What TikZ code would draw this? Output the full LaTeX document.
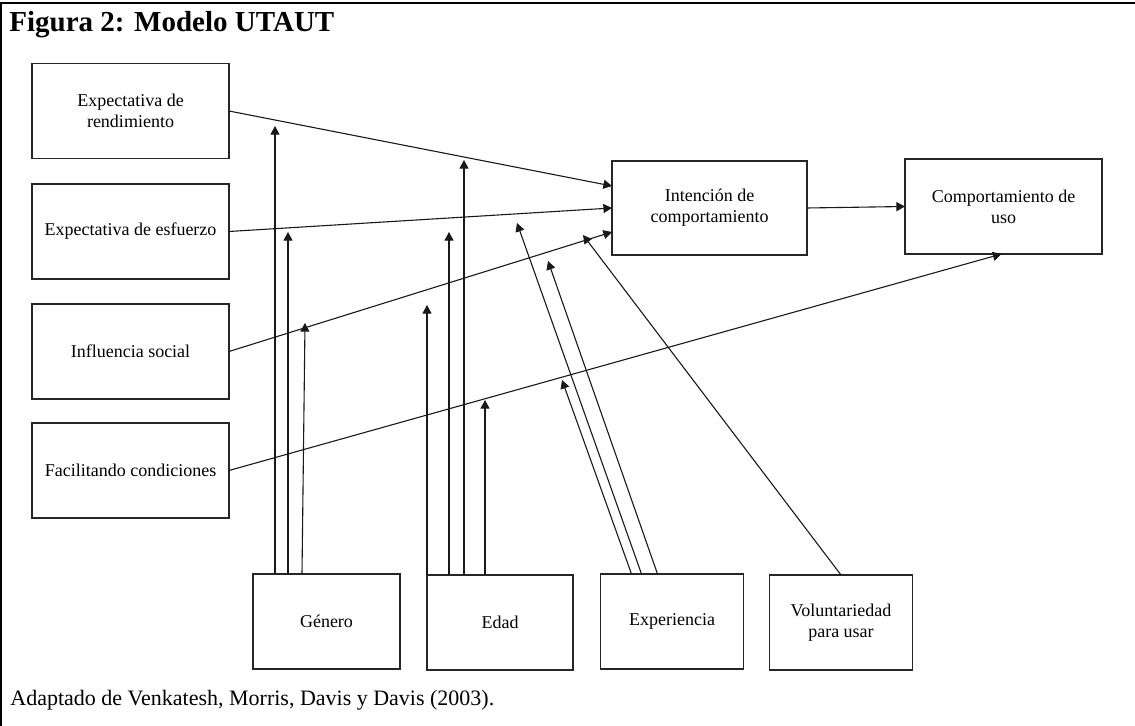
\documentclass[tikz,border=0pt]{standalone}
\usepackage{fontspec}
\setmainfont{Liberation Serif}
\usetikzlibrary{arrows.meta,calc}

\begin{document}
\begin{tikzpicture}[x=0.5pt,y=-0.5pt,
  construct/.style={draw=black!85,line width=0.6pt,fill=white,inner sep=0pt,outer sep=0pt,
    align=center,font=\fontsize{9}{10.5}\selectfont},
  leftbox/.style={construct,minimum width=98.5pt,minimum height=47.5pt},
  midbox/.style={construct,minimum width=97.5pt,minimum height=47pt},
  modbox/.style={construct,minimum width=71.5pt,minimum height=47.5pt},
  arr/.style={draw=black!90,line width=0.55pt,-{Triangle[length=4.3pt,width=4.5pt]}},
  frameline/.style={draw=black,line width=1pt}]

\useasboundingbox (0,0) rectangle (1135,726);

% frame: top rule and left rule
\coordinate (ftl) at (1,3);
\coordinate (ftr) at (1135,3);
\coordinate (fbl) at (1,726);
\draw[frameline] (fbl) -- (ftl) -- (ftr);

% title and source note
\node[anchor=base west,inner sep=0pt,font=\fontsize{14.5}{17}\selectfont\bfseries] (title) at (9,32) {Figura 2: Modelo UTAUT};
\node[anchor=base west,inner sep=0pt,font=\fontsize{11}{13}\selectfont] (source) at (10,705) {Adaptado de Venkatesh, Morris, Davis y Davis (2003).};

% determinants
\node[leftbox] (pe) at (130.5,111)   {Expectativa de\\rendimiento};
\node[leftbox] (ee) at (130.5,231.5) {Expectativa de esfuerzo};
\node[leftbox] (si) at (130.5,351.5) {Influencia social};
\node[leftbox] (fc) at (130.5,470.5) {Facilitando condiciones};

% intention and use
\node[midbox] (bi) at (709.5,208) {Intención de\\comportamiento};
\node[leftbox] (ub) at (1003.5,206.5) {Comportamiento de\\uso};

% moderators
\node[construct,minimum width=73.5pt,minimum height=47.5pt] (gen) at (326.5,621.5) {Género};
\node[construct,minimum width=73pt,minimum height=47.5pt] (age) at (500,622.5) {Edad};
\node[modbox] (exp) at (672,621.5) {Experiencia};
\node[modbox] (vol) at (841,622.5) {Voluntariedad\\para usar};

% main paths
\draw[arr] (pe.east) -- ($(bi.west)+(0,-22)$);
\draw[arr] (ee.east) -- (bi.west);
\draw[arr] (si.east) -- ($(bi.west)+(0,24)$);
\draw[arr] (fc.east) -- ($(ub.south)+(-2,0)$);
\draw[arr] (bi.east) -- (ub.west);

% moderating arrow tips
\coordinate (g1) at (275,126);
\coordinate (g2) at (288,232);
\coordinate (g3) at (305,323);
\coordinate (a1) at (427,305);
\coordinate (a2) at (449,232);
\coordinate (a3) at (464,160);
\coordinate (a4) at (485,400);
\coordinate (e1) at (562,380);
\coordinate (e2) at (517,223);
\coordinate (e3) at (548,261);
\coordinate (v1) at (583,235);

% gender
\draw[arr] ($(gen.north west)+(22,0)$) -- (g1);
\draw[arr] ($(gen.north west)+(35,0)$) -- (g2);
\draw[arr] ($(gen.north west)+(49,0)$) -- (g3);
% age
\draw[arr] (age.north west) -- (a1);
\draw[arr] ($(age.north west)+(22,0)$) -- (a2);
\draw[arr] ($(age.north west)+(37,0)$) -- (a3);
\draw[arr] ($(age.north west)+(58,0)$) -- (a4);
% experience
\draw[arr] ($(exp.north west)+(31,0)$) -- (e1);
\draw[arr] ($(exp.north west)+(41,0)$) -- (e2);
\draw[arr] ($(exp.north west)+(57,0)$) -- (e3);
% voluntariness
\draw[arr] (vol.north) -- (v1);

\end{tikzpicture}
\end{document}
